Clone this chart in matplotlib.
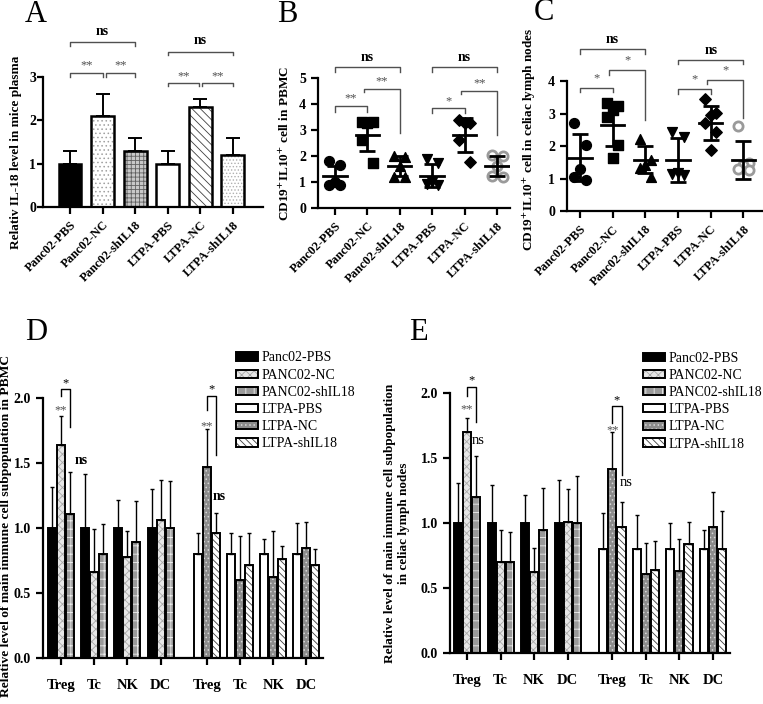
import numpy as np
import matplotlib
matplotlib.use("Agg")
import matplotlib.pyplot as plt
from matplotlib.patches import Patch

plt.rcParams['font.family'] = ['Liberation Serif', 'DejaVu Serif']
plt.rcParams['mathtext.fontset'] = 'stix'
plt.rcParams['hatch.linewidth'] = 0.6

groups = ["Panc02-PBS", "Panc02-NC", "Panc02-shIL18", "LTPA-PBS", "LTPA-NC", "LTPA-shIL18"]
legend_names = ["Panc02-PBS", "PANC02-NC", "PANC02-shIL18", "LTPA-PBS", "LTPA-NC", "LTPA-shIL18"]
cells = ["Treg", "Tc", "NK", "DC"]

# A: relative IL-18 in plasma
il18_mean = [1.0, 2.1, 1.3, 1.0, 2.3, 1.2]
il18_err = [0.3, 0.5, 0.3, 0.3, 0.2, 0.4]

# B: CD19+IL10+ in PBMC
pbmc_pts = [
    [1.82, 1.65, 1.0, 0.9, 0.88],
    [3.32, 3.30, 3.26, 2.62, 1.74],
    [2.0, 1.95, 1.6, 1.18, 1.18],
    [1.87, 1.72, 1.0, 0.92, 0.88],
    [3.38, 3.28, 3.26, 2.62, 1.78],
    [2.04, 2.02, 1.62, 1.22, 1.2],
]
pbmc_mean = [1.23, 2.81, 1.62, 1.25, 2.81, 1.62]
pbmc_sd = [0.40, 0.63, 0.38, 0.43, 0.64, 0.40]

# C: CD19+IL10+ in celiac lymph nodes
ln_pts = [
    [2.72, 2.05, 1.3, 1.05, 0.95],
    [3.33, 3.25, 3.1, 2.9, 2.03, 1.65],
    [2.22, 1.57, 1.42, 1.34, 1.04],
    [2.44, 2.29, 1.16, 1.13, 1.1],
    [3.44, 3.03, 2.97, 2.7, 2.44, 1.88],
    [2.62, 1.47, 1.42, 1.31, 1.26],
]
ln_mean = [1.64, 2.66, 1.58, 1.58, 2.71, 1.57]
ln_sd = [0.72, 0.65, 0.42, 0.68, 0.53, 0.58]

# D: immune subpopulations in PBMC (rows = groups, cols = cells)
d_mean = [
    [1.0, 1.0, 1.0, 1.0],
    [1.64, 0.66, 0.78, 1.06],
    [1.11, 0.80, 0.89, 1.00],
    [0.80, 0.80, 0.80, 0.80],
    [1.47, 0.60, 0.62, 0.85],
    [0.96, 0.72, 0.76, 0.72],
]
d_err = [
    [0.32, 0.42, 0.22, 0.30],
    [0.22, 0.33, 0.20, 0.31],
    [0.32, 0.23, 0.32, 0.36],
    [0.16, 0.16, 0.12, 0.24],
    [0.29, 0.34, 0.36, 0.20],
    [0.16, 0.24, 0.10, 0.12],
]

# E: immune subpopulations in celiac lymph nodes
e_mean = [
    [1.0, 1.0, 1.0, 1.0],
    [1.70, 0.70, 0.62, 1.01],
    [1.20, 0.70, 0.95, 1.00],
    [0.80, 0.80, 0.80, 0.80],
    [1.42, 0.61, 0.63, 0.97],
    [0.97, 0.64, 0.84, 0.80],
]
e_err = [
    [0.31, 0.29, 0.22, 0.33],
    [0.11, 0.25, 0.19, 0.25],
    [0.32, 0.23, 0.32, 0.36],
    [0.28, 0.26, 0.20, 0.15],
    [0.28, 0.24, 0.25, 0.27],
    [0.19, 0.22, 0.17, 0.29],
]

# (facecolor, hatch, hatch colour)
styles_a = [('black', '', 'black'), ('white', '....', '#a0a0a0'), ('#c8c8c8', '++++', '#606060'),
            ('white', '', 'black'), ('white', '\\\\\\\\', '#404040'), ('white', '.....', '#b0b0b0')]
styles_de = [('black', '', 'black'), ('#e6e6e6', 'xxxx', '#a8a8a8'), ('#9a9a9a', '++', '#eeeeee'),
             ('white', '', 'black'), ('#8c8c8c', '....', '#d8d8d8'), ('white', '\\\\\\\\\\', '#404040')]

GRAY = '#505050'


def draw_bar(ax, x, h, w, st, lw):
    fc, hatch, hc = st
    ax.bar(x, h, w, color=fc, hatch=hatch, edgecolor=hc, linewidth=0)
    ax.bar(x, h, w, fill=False, edgecolor='black', linewidth=lw)


def bracket(ax, x1, x2, y, y1, y2, text, fs=9, weight='normal', color=GRAY, dy=0.0, tcolor=None):
    ax.plot([x1, x1, x2, x2], [y1, y, y, y2], color=color, lw=1, clip_on=False)
    ax.text((x1 + x2) / 2, y + dy, text, ha='center', va='bottom', fontsize=fs,
            fontweight=weight, color=tcolor or color, clip_on=False)


def style_axes(ax, lw=1.6):
    for s in ['top', 'right']:
        ax.spines[s].set_visible(False)
    for s in ['left', 'bottom']:
        ax.spines[s].set_linewidth(lw)
    ax.tick_params(direction='out', width=lw, length=5)
    for lab in ax.get_yticklabels():
        lab.set_fontweight('bold')
        lab.set_fontsize(10)


def spread(vals, w):
    pattern = [-1, 1, 0, -1, 1, 0]
    order = np.argsort(vals)[::-1]
    offs = np.zeros(len(vals))
    for r, i in enumerate(order):
        offs[i] = pattern[r % len(pattern)] * w
    return offs


fig = plt.figure(figsize=(7.63, 7.04), dpi=100)

# ---------------- A ----------------
axA = fig.add_axes([0.0564, 0.706, 0.288, 0.1847])
xa = np.arange(len(groups))
for i in range(len(groups)):
    draw_bar(axA, xa[i], il18_mean[i], 0.7, styles_a[i], 1.8)
axA.errorbar(xa, il18_mean, yerr=[np.zeros(6), il18_err], fmt='none', ecolor='black',
             elinewidth=1.4, capsize=5, capthick=1.4)
axA.set_xlim(-0.83, 5.92)
axA.set_ylim(0, 3)
axA.set_yticks([0, 1, 2, 3])
axA.set_xticks(xa)
axA.set_xticklabels(groups, rotation=45, ha='right', rotation_mode='anchor',
                    fontsize=9, fontweight='bold')
axA.set_ylabel("Relativ IL-18 level in mice plasma", fontsize=9.5, fontweight='bold')
style_axes(axA)
axA.tick_params(axis='y', length=4, pad=1)
axA.yaxis.set_label_coords(-0.095, 0.42)
bracket(axA, 0, 1, 3.1, 3.0, 3.0, "**", dy=0.02)
bracket(axA, 1.1, 2, 3.1, 3.0, 3.0, "**", dy=0.02)
bracket(axA, 0, 2, 3.8, 3.72, 3.72, "ns", fs=10, weight='bold', dy=0.1, tcolor='black')
bracket(axA, 3, 3.95, 2.86, 2.8, 2.8, "**", dy=0.02)
bracket(axA, 4.05, 5, 2.86, 2.8, 2.8, "**", dy=0.02)
bracket(axA, 3, 5, 3.58, 3.5, 3.5, "ns", fs=10, weight='bold', dy=0.1, tcolor='black')


# ---------------- B, C scatter ----------------
markers = ['o', 's', '^', 'v', 'D', 'o']


def scatter_panel(ax, pts, means, sds):
    for i, vals in enumerate(pts):
        vals = np.array(vals)
        xs = i + spread(vals, 0.17)
        if i == 5:
            ax.scatter(xs, vals, s=44, marker='o', facecolor='white', edgecolor='#9a9a9a',
                       linewidth=2, zorder=3)
        else:
            ax.scatter(xs, vals, s=50 if markers[i] != 'D' else 34, marker=markers[i],
                       color='black', zorder=3)
        ax.plot([i - 0.36, i + 0.36], [means[i], means[i]], color='black', lw=2, zorder=4)
        ax.errorbar(i, means[i], yerr=sds[i], fmt='none', ecolor='black', elinewidth=2,
                    capsize=6, capthick=2, zorder=4)
    ax.set_xticks(range(len(groups)))
    ax.set_xticklabels(groups, rotation=45, ha='right', rotation_mode='anchor',
                       fontsize=9, fontweight='bold')


axB = fig.add_axes([0.4168, 0.7045, 0.2516, 0.1847])
scatter_panel(axB, pbmc_pts, pbmc_mean, pbmc_sd)
axB.set_xlim(-0.52, 5.4)
axB.set_ylim(0, 5)
axB.set_yticks(range(6))
axB.set_ylabel(r"CD19$^{\mathbf{+}}$IL10$^{\mathbf{+}}$ cell in PBMC", fontsize=9.5,
               fontweight='bold')
axB.yaxis.set_label_coords(-0.135, 0.5)
style_axes(axB)
bracket(axB, 0, 1, 3.92, 3.7, 3.7, "**", dy=0.05)
bracket(axB, 0.9, 2, 4.58, 4.45, 2.87, "**", dy=0.05)
bracket(axB, 0, 2, 5.42, 5.25, 5.25, "ns", fs=10, weight='bold', dy=0.12, tcolor='black')
bracket(axB, 3, 4, 3.83, 3.64, 3.64, "*", dy=0.05)
bracket(axB, 3.9, 5, 4.51, 4.38, 2.8, "**", dy=0.05)
bracket(axB, 3, 5, 5.42, 5.25, 5.25, "ns", fs=10, weight='bold', dy=0.12, tcolor='black')

axC = fig.add_axes([0.743, 0.700, 0.257, 0.1847])
scatter_panel(axC, ln_pts, ln_mean, ln_sd)
axC.set_xlim(-0.4, 5.6)
axC.set_ylim(0, 4)
axC.set_yticks(range(5))
axC.set_ylabel(r"CD19$^{\mathbf{+}}$IL10$^{\mathbf{+}}$ cell in celiac lymph nodes", fontsize=9.5,
               fontweight='bold')
axC.yaxis.set_label_coords(-0.148, 0.55)
style_axes(axC)
bracket(axC, 0, 1, 3.79, 3.66, 3.66, "*", dy=0.12)
bracket(axC, 0.9, 2, 4.34, 4.2, 2.8, "*", dy=0.12)
bracket(axC, 0, 2, 4.98, 4.85, 4.85, "ns", fs=10, weight='bold', dy=0.1, tcolor='black')
bracket(axC, 3, 4, 3.75, 3.62, 3.62, "*", dy=0.12)
bracket(axC, 3.9, 5, 4.03, 3.9, 2.88, "*", dy=0.12)
bracket(axC, 3, 5, 4.65, 4.52, 4.52, "ns", fs=10, weight='bold', dy=0.1, tcolor='black')


# ---------------- D, E grouped bars ----------------
def grouped_panel(ax, means, errs, gap):
    centers = np.array([0, 1, 2, 3, 3 + gap, 4 + gap, 5 + gap, 6 + gap])
    bw = 0.24
    step = 0.27
    for gi in range(6):
        half = 0 if gi < 3 else 1
        off = (gi % 3 - 1) * step
        xs = centers[half * 4:(half + 1) * 4] + off
        for k in range(4):
            draw_bar(ax, xs[k], means[gi][k], bw, styles_de[gi], 1.4)
        ax.errorbar(xs, means[gi], yerr=[np.zeros(4), errs[gi]], fmt='none', ecolor='black',
                    elinewidth=1, capsize=1.5, capthick=1)
    ax.set_xticks(centers)
    ax.set_xticklabels(cells * 2, fontsize=10.5, fontweight='bold')
    ax.set_ylim(0, 2)
    ax.set_yticks([0, 0.5, 1.0, 1.5, 2.0])
    ax.set_yticklabels(['0.0', '0.5', '1.0', '1.5', '2.0'])
    style_axes(ax, 1.6)
    ax.tick_params(axis='x', pad=10)
    return centers, step


def legend_panel(ax, anchor):
    handles = []
    for st in styles_de:
        fc, hatch, hc = st
        handles.append((Patch(facecolor=fc, hatch=hatch, edgecolor=hc, linewidth=0),
                        Patch(fill=False, edgecolor='black', linewidth=1.4)))
    ax.legend(handles, legend_names, loc='upper left', bbox_to_anchor=anchor, frameon=False,
              fontsize=10, handlelength=1.6, handleheight=0.55, labelspacing=0.3,
              handletextpad=0.2, borderpad=0, borderaxespad=0)


axD = fig.add_axes([0.0564, 0.0653, 0.367, 0.369])
cD, stD = grouped_panel(axD, d_mean, d_err, 1.39)
axD.set_xlim(-0.54, 7.89)
axD.set_ylabel("Relative level of main immune cell subpopulation in PBMC", fontsize=9.7,
               fontweight='bold')
axD.yaxis.set_label_coords(-0.112, 0.51)
legend_panel(axD, (0.69, 1.18))
bracket(axD, cD[0], cD[0] + stD, 2.07, 2.02, 1.78, "*", color='black', dy=0.0)
axD.text(cD[0], 1.86, "**", ha='center', va='bottom', fontsize=9, color=GRAY)
axD.text(cD[0] + 0.4, 1.52, "ns", ha='left', va='center', fontsize=10, fontweight='bold')
bracket(axD, cD[4], cD[4] + stD, 2.02, 1.91, 1.56, "*", color='black', dy=0.0)
axD.text(cD[4], 1.74, "**", ha='center', va='bottom', fontsize=9, color=GRAY)
axD.text(cD[4] + 0.18, 1.24, "ns", ha='left', va='center', fontsize=10, fontweight='bold')

axE = fig.add_axes([0.5898, 0.0724, 0.367, 0.369])
cE, stE = grouped_panel(axE, e_mean, e_err, 1.34)
axE.set_xlim(-0.51, 7.85)
axE.set_ylabel("Relative level of main immune cell subpopulation\nin celiac lymph nodes",
               fontsize=9.5, fontweight='bold', linespacing=1.2)
axE.yaxis.set_label_coords(-0.143, 0.5)
legend_panel(axE, (0.69, 1.16))
bracket(axE, cE[0], cE[0] + stE, 2.05, 1.98, 1.78, "*", color='black', dy=0.0)
axE.text(cE[0], 1.83, "**", ha='center', va='bottom', fontsize=9, color=GRAY)
axE.text(cE[0] + 0.15, 1.64, "ns", ha='left', va='center', fontsize=10.5)
bracket(axE, cE[4], cE[4] + stE, 1.90, 1.77, 1.37, "*", color='black', dy=0.0)
axE.text(cE[4], 1.67, "**", ha='center', va='bottom', fontsize=9, color=GRAY)
axE.text(cE[4] + 0.22, 1.31, "ns", ha='left', va='center', fontsize=10.5)

# panel letters
for lab, x, y in [("A", 36, 15), ("B", 287, 15), ("C", 544, 13), ("D", 36, 333), ("E", 418, 333)]:
    fig.text(x / 763, 1 - y / 704, lab, fontsize=22, ha='center', va='center')

fig.savefig("out.png", dpi=100)
